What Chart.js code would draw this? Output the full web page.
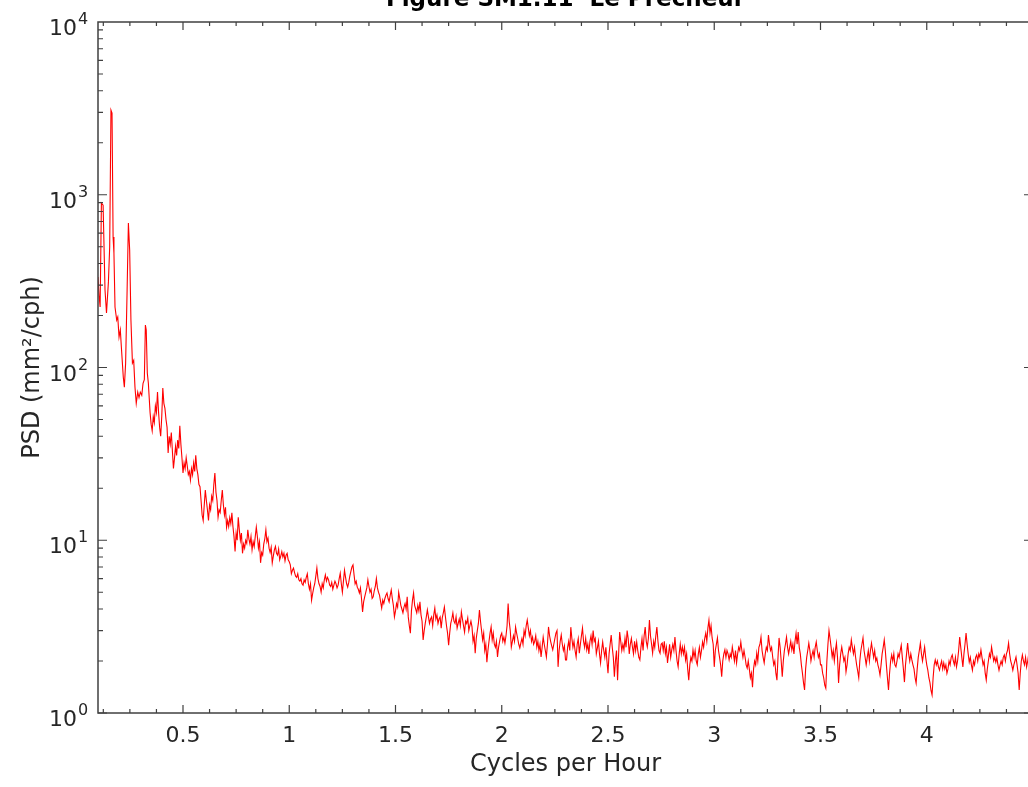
<!DOCTYPE html>
<html><head><meta charset="utf-8">
<script src="https://cdn.jsdelivr.net/npm/chart.js@4/dist/chart.umd.min.js"></script>
<style>
html,body{margin:0;padding:0;background:#fff;overflow:hidden;width:1028px;height:787px;}
#wrap{position:absolute;left:0;top:-30px;width:1040px;height:817px;}
</style></head><body>
<div id="wrap"><canvas id="c"></canvas></div>
<script>
const titleText = 'Figure SM1.11  Le Prêcheur';
const xAxisTitle = 'Cycles per Hour';
const yAxisTitle = 'PSD (mm²/cph)';
const xTickValues = [0.5, 1, 1.5, 2, 2.5, 3, 3.5, 4];
const yTickValues = [1, 10, 100, 1000, 10000];
const yTickBase = '10';
const yTickExponents = ['0', '1', '2', '3', '4'];

// tidal-peak band (cph) and PSD (mm^2/cph)
const freqLow = [
 0.100,0.105,0.110,0.116,0.124,0.133,0.140,0.149,0.155,0.161,
 0.166,0.171,0.175,0.180,0.188,0.193,0.199,0.205,0.210,0.219,
 0.224,0.230,0.237,0.243,0.249,0.255,0.262,0.268,0.274,0.280,
 0.287,0.293,0.299,0.306,0.312,0.318,0.323,0.327,0.332,0.337
];
const psdLow = [
 334,260,224,896,870,281,207,313,499,3093,
 2972,569,460,224,188,196,150,165,131,88,
 77,106,281,686,479,188,106,110,77,62,
 72,67,72,69,81,85,176,165,93,81
];

const freqB = [
 0.340,0.345,0.350,0.355,0.360,0.365,0.370,0.375,0.380,0.385,
 0.390,0.395,0.400,0.405,0.410,0.415,0.420,0.425,0.430,0.435,
 0.440,0.445,0.450,0.455,0.460,0.465,0.470,0.475,0.480,0.485,
 0.490,0.495,0.500,0.505,0.510,0.515,0.520,0.525,0.530,0.535,
 0.540,0.545,0.550,0.555,0.560,0.565,0.570,0.575,0.580,0.585,
 0.590,0.595,0.600,0.605,0.610,0.615,0.620,0.625,0.630,0.635,
 0.640,0.645,0.650,0.655,0.660,0.665,0.670,0.675,0.680,0.685,
 0.690,0.695,0.700,0.705,0.710,0.715,0.720,0.725,0.730,0.735,
 0.740,0.745,0.750,0.755,0.760,0.765,0.770,0.775,0.780,0.785,
 0.790,0.795,0.800,0.805,0.810,0.815,0.820,0.825,0.830,0.835,
 0.840,0.845,0.850,0.855,0.860,0.865,0.870,0.875,0.880,0.885,
 0.890,0.895,0.900,0.905,0.910,0.915,0.920,0.925,0.930,0.935,
 0.940,0.945,0.950,0.955,0.960,0.965,0.970,0.975,0.980,0.985,
 0.990,0.995,1.000
];
const psdB = [
 70,55,47,43,52,48,60,55,72,55,
 45,40,52,76,62,58,50,45,32,40,
 36,42,33,26,30,35,31,38,34,46,
 36,30,24.5,28,26,30,27,24,25,22.3,
 26,24,28,25,31,26,24,21,20.4,17,
 14,13,16,19.5,17,15,13,16,15,18,
 17,21,24.5,19,17,13.6,15,14.5,17,19.5,
 16,14,15.5,11.9,13,12,13.5,12.5,14.4,12,
 10.5,8.6,11,10,13.6,11.5,10,11,8.4,9.5,
 9,10,9.6,11.5,10.2,9.5,10.5,8.8,9.8,9.2,
 10.5,11.9,10.5,9,9.8,7.4,8.5,8.2,9.5,10.2,
 11.5,9.8,10.3,9,8.5,9.1,7.4,8.1,8.8,9.2,
 8.4,8.2,8.9,7.7,8.1,8.6,8.0,8.4,7.6,8.2,
 8.4,7.7,7.5
];

const freqC = [
 1.005,1.010,1.015,1.020,1.025,1.030,1.035,1.040,1.045,1.050,
 1.055,1.060,1.065,1.070,1.075,1.080,1.085,1.090,1.095,1.100,
 1.105,1.110,1.115,1.120,1.125,1.130,1.135,1.140,1.145,1.150,
 1.155,1.160,1.165,1.170,1.175,1.180,1.185,1.190,1.195,1.200,
 1.205,1.210,1.215,1.220,1.225,1.230,1.235,1.240,1.245,1.250,
 1.255,1.260,1.265,1.270,1.275,1.280,1.285,1.290,1.295,1.300,
 1.305,1.310,1.315,1.320,1.325,1.330,1.335,1.340,1.345,1.350,
 1.355,1.360,1.365,1.370,1.375,1.380,1.385,1.390,1.395,1.400,
 1.405,1.410,1.415,1.420,1.425,1.430,1.435,1.440,1.445,1.450,
 1.455,1.460,1.465,1.470,1.475,1.480,1.485,1.490,1.495,1.500,
 1.505,1.510,1.515,1.520,1.525,1.530,1.535,1.540,1.545,1.550,
 1.555,1.560,1.565,1.570,1.575,1.580,1.585,1.590,1.595,1.600,
 1.605,1.610,1.615,1.620,1.625,1.630,1.635,1.640,1.645,1.650,
 1.655,1.660,1.665,1.670,1.675,1.680,1.685,1.690,1.695,1.700,
 1.705,1.710,1.715,1.720,1.725,1.730,1.735,1.740,1.745,1.750,
 1.755,1.760,1.765,1.770,1.775,1.780,1.785,1.790,1.795,1.800,
 1.805,1.810,1.815,1.820,1.825,1.830,1.835,1.840,1.845,1.850,
 1.855,1.860,1.865,1.870,1.875,1.880,1.885,1.890,1.895,1.900,
 1.905,1.910,1.915,1.920,1.925,1.930,1.935,1.940,1.945,1.950,
 1.955,1.960,1.965,1.970,1.975,1.980,1.985,1.990,1.995,2.000,
 2.005,2.010,2.015,2.020,2.025,2.030,2.035,2.040,2.045,2.050,
 2.055,2.060,2.065,2.070,2.075,2.080,2.085,2.090,2.095,2.100,
 2.105,2.110,2.115,2.120,2.125,2.130,2.135,2.140,2.145,2.150,
 2.155,2.160,2.165,2.170,2.175,2.180,2.185,2.190,2.195,2.200,
 2.205,2.210,2.215,2.220,2.225,2.230,2.235,2.240,2.245,2.250,
 2.255,2.260,2.265,2.270,2.275,2.280,2.285,2.290,2.295,2.300
];
const psdC = [
 7.2,6.4,6.7,6.9,6.5,6.2,6.1,6.4,5.9,5.8,
 6.0,5.6,5.5,5.9,5.7,6.1,6.4,5.6,5.2,5.6,
 4.5,4.9,5.3,5.6,6.2,6.9,6.0,5.6,5.4,5.0,
 5.6,5.3,5.9,6.3,5.8,6.1,5.9,5.5,5.4,5.7,
 5.2,5.5,5.8,5.6,5.3,5.5,6.0,6.45,5.6,5.0,
 5.8,6.7,6.1,5.6,5.35,5.7,6.2,6.6,7.0,7.2,
 6.3,5.6,5.8,5.35,5.2,4.95,5.3,4.6,3.85,4.4,
 4.7,5.0,5.3,5.9,5.4,5.0,5.2,4.6,4.7,5.1,
 5.4,6.0,5.3,5.0,4.8,4.4,4.05,4.5,4.3,4.6,
 4.8,4.95,4.6,4.4,4.8,5.15,4.6,4.2,3.6,3.9,
 4.3,4.1,5.0,4.6,4.2,4.0,3.8,4.1,4.3,4.0,
 4.7,3.6,3.2,2.9,3.9,4.5,4.95,4.2,4.0,3.8,
 4.2,3.9,4.4,3.7,3.4,2.65,3.0,3.3,3.6,3.95,
 3.6,3.3,3.5,3.6,3.2,3.7,4.05,3.5,3.7,3.3,
 3.5,3.6,3.1,3.55,3.8,4.1,3.6,3.2,2.9,2.47,
 2.9,3.3,3.5,3.8,3.4,3.3,3.6,3.1,3.3,3.5,
 3.2,3.85,3.5,3.2,2.94,3.4,3.3,3.55,3.0,3.2,
 3.4,3.15,2.6,2.8,2.22,2.7,3.0,3.3,3.95,3.4,
 3.0,2.65,2.9,2.3,2.5,1.97,2.3,2.6,2.9,3.15,
 2.65,2.9,2.5,2.4,2.6,2.11,2.4,2.6,2.8,2.9,
 2.6,2.75,2.54,2.8,3.2,4.3,3.4,3.0,2.41,2.6,
 2.8,2.6,3.15,2.9,2.7,2.5,2.38,2.55,2.7,2.5,
 3.0,2.8,3.2,3.45,3.1,2.8,3.0,2.6,2.75,2.5,
 2.6,2.8,2.41,2.6,2.3,2.5,2.11,2.4,2.75,2.5,
 2.3,2.11,2.5,3.15,2.8,2.6,2.45,2.32,2.5,2.7,
 2.9,3.0,1.85,2.3,2.6,2.83,2.5,2.3,2.45,2.03
];

const freqD = [
 2.305,2.310,2.315,2.320,2.325,2.330,2.335,2.340,2.345,2.350,
 2.355,2.360,2.365,2.370,2.375,2.380,2.385,2.390,2.395,2.400,
 2.405,2.410,2.415,2.420,2.425,2.430,2.435,2.440,2.445,2.450,
 2.455,2.460,2.465,2.470,2.475,2.480,2.485,2.490,2.495,2.500,
 2.505,2.510,2.515,2.520,2.525,2.530,2.535,2.540,2.545,2.550,
 2.555,2.560,2.565,2.570,2.575,2.580,2.585,2.590,2.595,2.600,
 2.605,2.610,2.615,2.620,2.625,2.630,2.635,2.640,2.645,2.650,
 2.655,2.660,2.665,2.670,2.675,2.680,2.685,2.690,2.695,2.700,
 2.705,2.710,2.715,2.720,2.725,2.730,2.735,2.740,2.745,2.750,
 2.755,2.760,2.765,2.770,2.775,2.780,2.785,2.790,2.795,2.800,
 2.805,2.810,2.815,2.820,2.825,2.830,2.835,2.840,2.845,2.850,
 2.855,2.860,2.865,2.870,2.875,2.880,2.885,2.890,2.895,2.900,
 2.905,2.910,2.915,2.920,2.925,2.930,2.935,2.940,2.945,2.950,
 2.955,2.960,2.965,2.970,2.975,2.980,2.985,2.990,2.995,3.000,
 3.005,3.010,3.015,3.020,3.025,3.030,3.035,3.040,3.045,3.050,
 3.055,3.060,3.065,3.070,3.075,3.080,3.085,3.090,3.095,3.100,
 3.105,3.110,3.115,3.120,3.125,3.130,3.135,3.140,3.145,3.150,
 3.155,3.160,3.165,3.170,3.175,3.180,3.185,3.190,3.195,3.200,
 3.205,3.210,3.215,3.220,3.225,3.230,3.235,3.240,3.245,3.250,
 3.255,3.260,3.265,3.270,3.275,3.280,3.285,3.290,3.295,3.300,
 3.305,3.310,3.315,3.320,3.325,3.330,3.335,3.340,3.345,3.350,
 3.355,3.360,3.365,3.370,3.375,3.380,3.385,3.390,3.395,3.400,
 3.405,3.410,3.415,3.420,3.425,3.430,3.435,3.440,3.445,3.450,
 3.455,3.460,3.465,3.470,3.475,3.480,3.485,3.490,3.495,3.500,
 3.505,3.510,3.515,3.520,3.525,3.530,3.535,3.540,3.545,3.550,
 3.555,3.560,3.565,3.570,3.575,3.580,3.585,3.590,3.595,3.600,
 3.605,3.610,3.615,3.620,3.625,3.630,3.635,3.640,3.645,3.650,
 3.655,3.660,3.665,3.670,3.675,3.680,3.685,3.690,3.695,3.700,
 3.705,3.710,3.715,3.720,3.725,3.730,3.735,3.740,3.745,3.750,
 3.755,3.760,3.765,3.770,3.775,3.780,3.785,3.790,3.795,3.800,
 3.805,3.810,3.815,3.820,3.825,3.830,3.835,3.840,3.845,3.850,
 3.855,3.860,3.865,3.870,3.875,3.880,3.885,3.890,3.895,3.900,
 3.905,3.910,3.915,3.920,3.925,3.930,3.935,3.940,3.945,3.950,
 3.955,3.960,3.965,3.970,3.975,3.980,3.985,3.990,3.995,4.000,
 4.005,4.010,4.015,4.020,4.025,4.030,4.035,4.040,4.045,4.050,
 4.055,4.060,4.065,4.070,4.075,4.080,4.085,4.090,4.095,4.100,
 4.105,4.110,4.115,4.120,4.125,4.130,4.135,4.140,4.145,4.150,
 4.155,4.160,4.165,4.170,4.175,4.180,4.185,4.190,4.195,4.200,
 4.205,4.210,4.215,4.220,4.225,4.230,4.235,4.240,4.245,4.250,
 4.255,4.260,4.265,4.270,4.275,4.280,4.285,4.290,4.295,4.300,
 4.305,4.310,4.315,4.320,4.325,4.330,4.335,4.340,4.345,4.350,
 4.355,4.360,4.365,4.370,4.375,4.380,4.385,4.390,4.395,4.400,
 4.405,4.410,4.415,4.420,4.425,4.430,4.435,4.440,4.445,4.450,
 4.455,4.460,4.465,4.470,4.475,4.480,4.485,4.490,4.495,4.500
];
const psdD = [
 2.03,2.4,2.6,2.3,3.14,2.7,2.4,2.6,2.3,2.11,
 2.5,2.7,2.22,2.5,2.8,3.1,2.6,2.4,2.7,2.32,
 2.5,2.2,2.6,2.8,2.5,3.0,2.6,2.7,2.2,2.38,
 2.6,2.2,1.95,2.3,2.58,2.3,2.1,2.4,2.0,1.7,
 2.2,2.5,2.83,2.4,2.1,1.62,2.0,2.3,1.55,2.2,
 2.94,2.6,2.3,2.5,2.32,2.7,2.4,3.0,2.7,2.2,
 2.5,2.7,2.41,2.2,2.6,2.3,2.58,2.3,2.1,2.03,
 2.4,2.7,2.3,2.8,3.14,2.6,2.41,2.7,3.45,2.8,
 2.5,2.22,2.6,2.4,2.8,3.14,2.6,2.3,2.22,2.5,
 2.54,2.3,2.6,2.2,2.4,1.95,2.2,2.5,2.1,2.32,
 2.5,2.3,2.75,2.3,2.0,1.85,2.2,2.5,2.2,2.41,
 2.2,2.4,2.03,2.2,1.8,1.55,1.9,2.1,2.0,2.32,
 2.1,2.3,2.0,1.9,2.2,2.4,2.1,2.3,2.58,2.4,
 2.7,2.9,2.6,3.1,3.45,2.9,3.2,2.72,2.5,1.85,
 2.3,2.5,2.72,2.3,2.1,1.9,1.62,2.0,2.2,2.32,
 2.1,2.3,2.2,2.03,2.2,2.1,2.41,2.2,2.0,2.3,
 1.95,2.2,2.4,2.3,2.58,2.3,2.1,2.3,2.11,1.9,
 1.82,2.0,1.8,1.6,1.7,1.41,1.8,2.0,1.9,2.22,
 2.0,2.4,2.5,2.75,2.3,2.1,1.95,2.2,2.4,2.3,
 2.83,2.5,2.3,2.4,2.11,1.9,2.0,1.7,1.55,2.1,
 2.72,2.4,2.0,1.62,2.0,2.3,2.5,2.75,2.4,2.2,
 2.4,2.6,2.32,2.5,2.2,2.6,2.9,2.5,2.94,2.4,
 2.2,1.9,1.7,1.5,1.36,1.8,2.1,2.3,2.54,2.3,
 2.0,2.17,2.3,2.1,2.4,2.58,2.3,2.1,2.2,1.9,
 1.9,1.7,1.6,1.45,1.39,2.0,2.5,3.0,2.7,2.4,
 2.11,2.3,2.0,2.3,2.54,2.1,1.49,1.9,2.2,2.41,
 2.2,2.0,2.1,1.73,1.9,2.2,2.4,2.3,2.65,2.4,
 2.2,2.4,2.11,1.9,1.75,1.6,2.0,2.3,2.5,2.72,
 2.3,2.1,1.9,2.1,2.3,2.0,2.3,2.54,2.3,2.1,
 2.3,2.0,2.08,1.9,1.8,1.66,1.9,2.2,2.4,2.65,
 2.3,1.9,1.6,1.36,1.7,2.0,2.17,2.0,2.2,1.9,
 1.85,2.0,2.2,2.1,2.3,2.47,2.1,1.8,1.51,1.9,
 2.2,2.54,2.2,2.0,2.2,2.03,1.9,1.8,1.6,1.49,
 1.8,2.1,2.3,2.54,2.2,2.0,2.2,2.41,2.1,1.9,
 1.77,1.6,1.5,1.35,1.27,1.6,1.9,2.03,1.9,2.0,
 1.85,1.77,1.9,2.0,1.8,1.95,1.8,1.9,1.7,1.8,
 2.0,1.9,2.1,2.17,2.0,1.9,2.1,1.85,2.0,2.3,
 2.75,2.4,2.1,1.85,2.2,2.5,2.9,2.5,2.2,1.97,
 2.1,1.9,1.77,2.0,1.9,2.1,2.17,2.0,2.2,2.1,
 2.32,2.1,1.9,2.0,1.7,1.55,1.8,2.0,2.2,2.1,
 2.41,2.2,2.0,2.1,1.97,2.1,1.9,1.77,1.9,2.0,
 1.9,2.1,2.17,2.0,2.2,2.3,2.54,2.2,2.0,1.9,
 1.77,1.9,2.0,2.11,1.9,1.7,1.36,1.7,2.0,2.17,
 2.0,1.9,2.1,1.85,2.0,2.2,1.95,2.0,2.1,2.05
];

const freq = freqLow.concat(freqB, freqC, freqD);
const psd = psdLow.concat(psdB, psdC, psdD);

const textColor = '#262626';
const fontFamily = "'DejaVu Sans', sans-serif";

const framePlugin = {
  id: 'frameTicks',
  afterDatasetsDraw(chart) {
    const { ctx, chartArea: { left, right, top, bottom }, scales: { x, y } } = chart;
    ctx.save();
    ctx.strokeStyle = '#404040';
    ctx.lineWidth = 1.5;
    ctx.strokeRect(left, top, right - left, bottom - top);
    ctx.lineWidth = 1.2;
    ctx.beginPath();
    for (let k = 1; k <= 36; k++) {
      const v = k * 0.125;
      if (v < x.min || v > x.max) continue;
      const px = x.getPixelForValue(v);
      const len = (k % 4 === 0) ? 8 : 4;
      ctx.moveTo(px, bottom); ctx.lineTo(px, bottom - len);
      ctx.moveTo(px, top); ctx.lineTo(px, top + len);
    }
    for (let d = 0; d < 4; d++) {
      for (let m = 1; m <= 9; m++) {
        const v = m * Math.pow(10, d);
        const py = y.getPixelForValue(v);
        const len = (m === 1) ? 9 : 5;
        ctx.moveTo(left, py); ctx.lineTo(left + len, py);
        ctx.moveTo(right, py); ctx.lineTo(right - len, py);
      }
    }
    ctx.stroke();

    // y tick labels: base "10" with raised exponent
    ctx.fillStyle = textColor;
    ctx.textBaseline = 'alphabetic';
    yTickValues.forEach((v, i) => {
      const py = y.getPixelForValue(v);
      ctx.font = "22px 'DejaVu Sans', sans-serif";
      ctx.textAlign = 'right';
      ctx.fillText(yTickBase, left - 21, py + 13);
      ctx.font = "16px 'DejaVu Sans', sans-serif";
      ctx.textAlign = 'left';
      ctx.fillText(yTickExponents[i], left - 20, py + 2);
    });
    ctx.restore();
  }
};

new Chart(document.getElementById('c'), {
  type: 'line',
  data: {
    datasets: [{
      data: freq.map((f, i) => ({ x: f, y: psd[i] })),
      borderColor: '#ff0000',
      borderWidth: 1.1,
      pointRadius: 0,
      tension: 0,
      fill: false
    }]
  },
  options: {
    responsive: true,
    maintainAspectRatio: false,
    animation: false,
    layout: { padding: { left: 0, right: 7, top: 0, bottom: 0 } },
    plugins: {
      legend: { display: false },
      tooltip: { enabled: false },
      title: {
        display: true,
        text: titleText,
        fullSize: false,
        color: '#000',
        font: { family: fontFamily, size: 23, weight: 'bold' },
        padding: { top: 16, bottom: 8.4 }
      }
    },
    scales: {
      x: {
        type: 'linear',
        min: 0.1,
        max: 4.5,
        grid: { display: false, drawTicks: false },
        border: { display: false },
        afterBuildTicks: s => { s.ticks = xTickValues.map(v => ({ value: v })); },
        afterFit: s => { s.height = 74; },
        ticks: {
          color: textColor,
          font: { family: fontFamily, size: 22 },
          padding: 10,
          maxRotation: 0,
          autoSkip: false,
          callback: v => String(v)
        },
        title: {
          display: true,
          text: xAxisTitle,
          color: textColor,
          font: { family: fontFamily, size: 24 },
          padding: { top: 0, bottom: 8 }
        }
      },
      y: {
        type: 'logarithmic',
        min: 1,
        max: 10000,
        grid: { display: false, drawTicks: false },
        border: { display: false },
        afterBuildTicks: s => { s.ticks = yTickValues.map(v => ({ value: v })); },
        afterFit: s => { s.width = 98; },
        ticks: { display: false },
        title: {
          display: true,
          text: yAxisTitle,
          color: textColor,
          font: { family: fontFamily, size: 24 },
          padding: { top: 18, bottom: 0 }
        }
      }
    }
  },
  plugins: [framePlugin]
});
</script>
</body></html>
